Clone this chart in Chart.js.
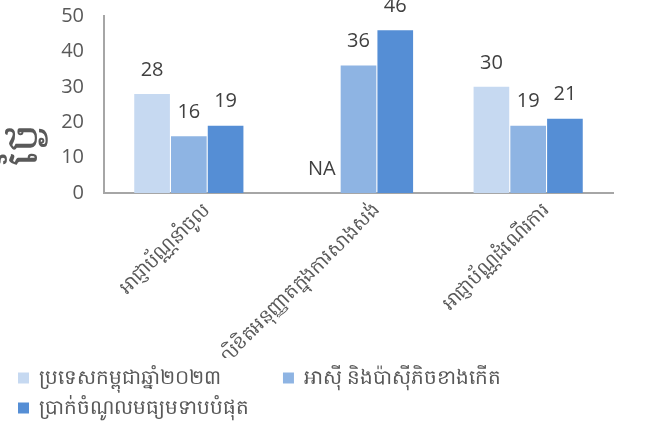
<!DOCTYPE html>
<html>
<head>
<meta charset="utf-8">
<script src="https://cdn.jsdelivr.net/npm/chart.js@4"></script>
<style>
  html, body { margin: 0; padding: 0; background: #fff; }
  #wrap { width: 665px; height: 430px; }
</style>
</head>
<body>
<div id="wrap"><canvas id="bar-chart"></canvas></div>
<script>
// data
const categories = ["អាជ្ញាប័ណ្ណនាំចូល", "លិខិតអនុញ្ញាតក្នុងការសាងសង់", "អាជ្ញាប័ណ្ណដំណើរការ"];
const seriesNames = ["ប្រទេសកម្ពុជាឆ្នាំ២០២៣", "អាស៊ី និងប៉ាស៊ីភិចខាងកើត", "ប្រាក់ចំណូលមធ្យមទាបបំផុត"];
const cambodia = [28, null, 30];
const eastAsia = [16, 36, 19];
const lowerMiddle = [19, 46, 21];
const yTicks = [0, 10, 20, 30, 40, 50];
const yTitle = "ថ្ងៃ";

const FONT = "'Open Sans', 'Noto Sans', sans-serif";

// value labels above bars, "NA" for missing ones
const valueLabels = {
  id: "valueLabels",
  afterDatasetsDraw(chart) {
    const ctx = chart.ctx;
    ctx.save();
    ctx.font = "20px " + FONT;
    ctx.fillStyle = "#404040";
    ctx.textAlign = "center";
    ctx.textBaseline = "bottom";
    chart.data.datasets.forEach((ds, di) => {
      const meta = chart.getDatasetMeta(di);
      meta.data.forEach((bar, i) => {
        const v = ds.data[i];
        const txt = v === null ? "NA" : String(v);
        ctx.fillText(txt, bar.x, bar.y - 14);
      });
    });
    ctx.restore();
  }
};

// y axis title, sitting a bit below the middle like the original
const yTitlePlugin = {
  id: "yTitlePlugin",
  afterDraw(chart) {
    const ctx = chart.ctx;
    const area = chart.chartArea;
    ctx.save();
    ctx.translate(24, area.top + (area.bottom - area.top) * 0.73);
    ctx.rotate(-Math.PI / 2);
    ctx.font = "44px " + FONT;
    ctx.fillStyle = "#595959";
    ctx.textAlign = "center";
    ctx.textBaseline = "middle";
    ctx.fillText(yTitle, 0, 0);
    ctx.restore();
  }
};

new Chart(document.getElementById("bar-chart"), {
  type: "bar",
  data: {
    labels: categories,
    datasets: [
      { label: seriesNames[0], data: cambodia, backgroundColor: "#c6d9f1" },
      { label: seriesNames[1], data: eastAsia, backgroundColor: "#8eb4e3" },
      { label: seriesNames[2], data: lowerMiddle, backgroundColor: "#558ed5" },
    ],
  },
  options: {
    responsive: true,
    maintainAspectRatio: false,
    animation: false,
    layout: { padding: { top: 0, right: 52, left: 8, bottom: 2 } },
    datasets: {
      bar: { categoryPercentage: 0.65, barPercentage: 0.97 },
    },
    scales: {
      x: {
        afterFit: (axis) => { axis.height = 165; },
        grid: { display: false, drawTicks: false },
        border: { display: true, color: "#a6a6a6", width: 2 },
        ticks: {
          color: "#595959",
          font: { family: FONT, size: 19 },
          minRotation: 45,
          maxRotation: 45,
          padding: 6,
          labelOffset: 18,
        },
      },
      y: {
        min: 0,
        max: 50,
        afterBuildTicks: (axis) => { axis.ticks = yTicks.map((v) => ({ value: v })); },
        afterFit: (axis) => { axis.width = 96; axis.paddingTop = 16; },
        grid: { display: false, drawTicks: false },
        border: { display: true, color: "#a6a6a6", width: 2 },
        ticks: {
          color: "#595959",
          font: { family: FONT, size: 20 },
          padding: 20,
        },
      },
    },
    plugins: {
      legend: {
        position: "bottom",
        align: "start",
        labels: {
          color: "#595959",
          font: { family: FONT, size: 20 },
          boxWidth: 11,
          boxHeight: 11,
          padding: 10,
          // widen the first entry so the second one sits in its own column
          generateLabels(chart) {
            const items = Chart.defaults.plugins.legend.labels.generateLabels(chart);
            items[0].text = items[0].text + "          ";
            return items;
          },
        },
      },
      tooltip: { enabled: false },
    },
  },
  plugins: [valueLabels, yTitlePlugin],
});
</script>
</body>
</html>
